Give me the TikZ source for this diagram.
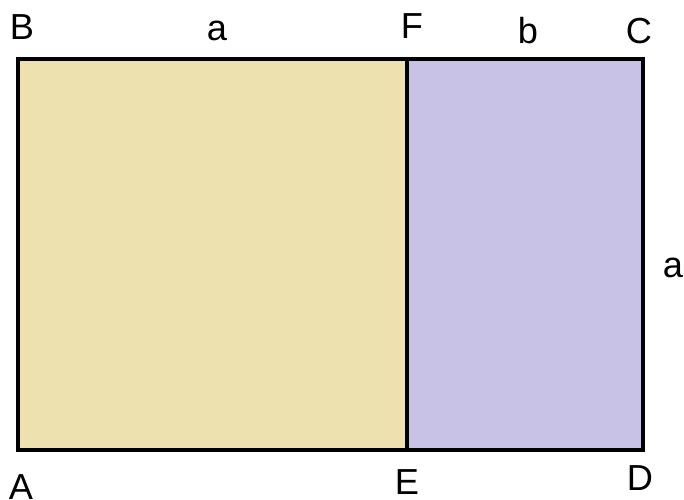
\documentclass[tikz,border=0pt]{standalone}
\usepackage{fontspec}
\setmainfont{Liberation Sans}
\usepackage{tikz}

\definecolor{squarefill}{HTML}{EDE2AF}
\definecolor{restfill}{HTML}{C8C2E6}

\begin{document}
\begin{tikzpicture}[x=0.02cm,y=-0.02cm,
    edge/.style={line width=2.3pt,line join=miter},
    lbl/.style={anchor=base,inner sep=0pt,font=\fontsize{20.6}{24}\selectfont}]
  \useasboundingbox (0,0) rectangle (684,500);
  %coordinates
  \coordinate (A) at (18,450);
  \coordinate (B) at (18,59);
  \coordinate (C) at (643,59);
  \coordinate (D) at (643,450);
  \coordinate (E) at (407,450);
  \coordinate (F) at (407,59);

  %faces
  \fill[squarefill] (A) -- (B) -- (F) -- (E) -- cycle;
  \fill[restfill] (E) -- (F) -- (C) -- (D) -- cycle;

  %edges
  \draw[edge] (A) -- (B) -- (C) -- (D) -- cycle;
  \draw[edge] (F) -- (E);

  %corner labels
  \node[lbl] (lB) at (22,40) {B};
  \node[lbl] (lF) at (412,39) {F};
  \node[lbl] (lC) at (639,44) {C};
  \node[lbl] (lA) at (21,500) {A};
  \node[lbl] (lE) at (407,495) {E};
  \node[lbl] (lD) at (640,490) {D};

  %side labels
  \node[lbl] (la) at (217,41) {a};
  \node[lbl] (lb) at (528,44) {b};
  \node[lbl] (lr) at (673,277) {a};
\end{tikzpicture}
\end{document}
